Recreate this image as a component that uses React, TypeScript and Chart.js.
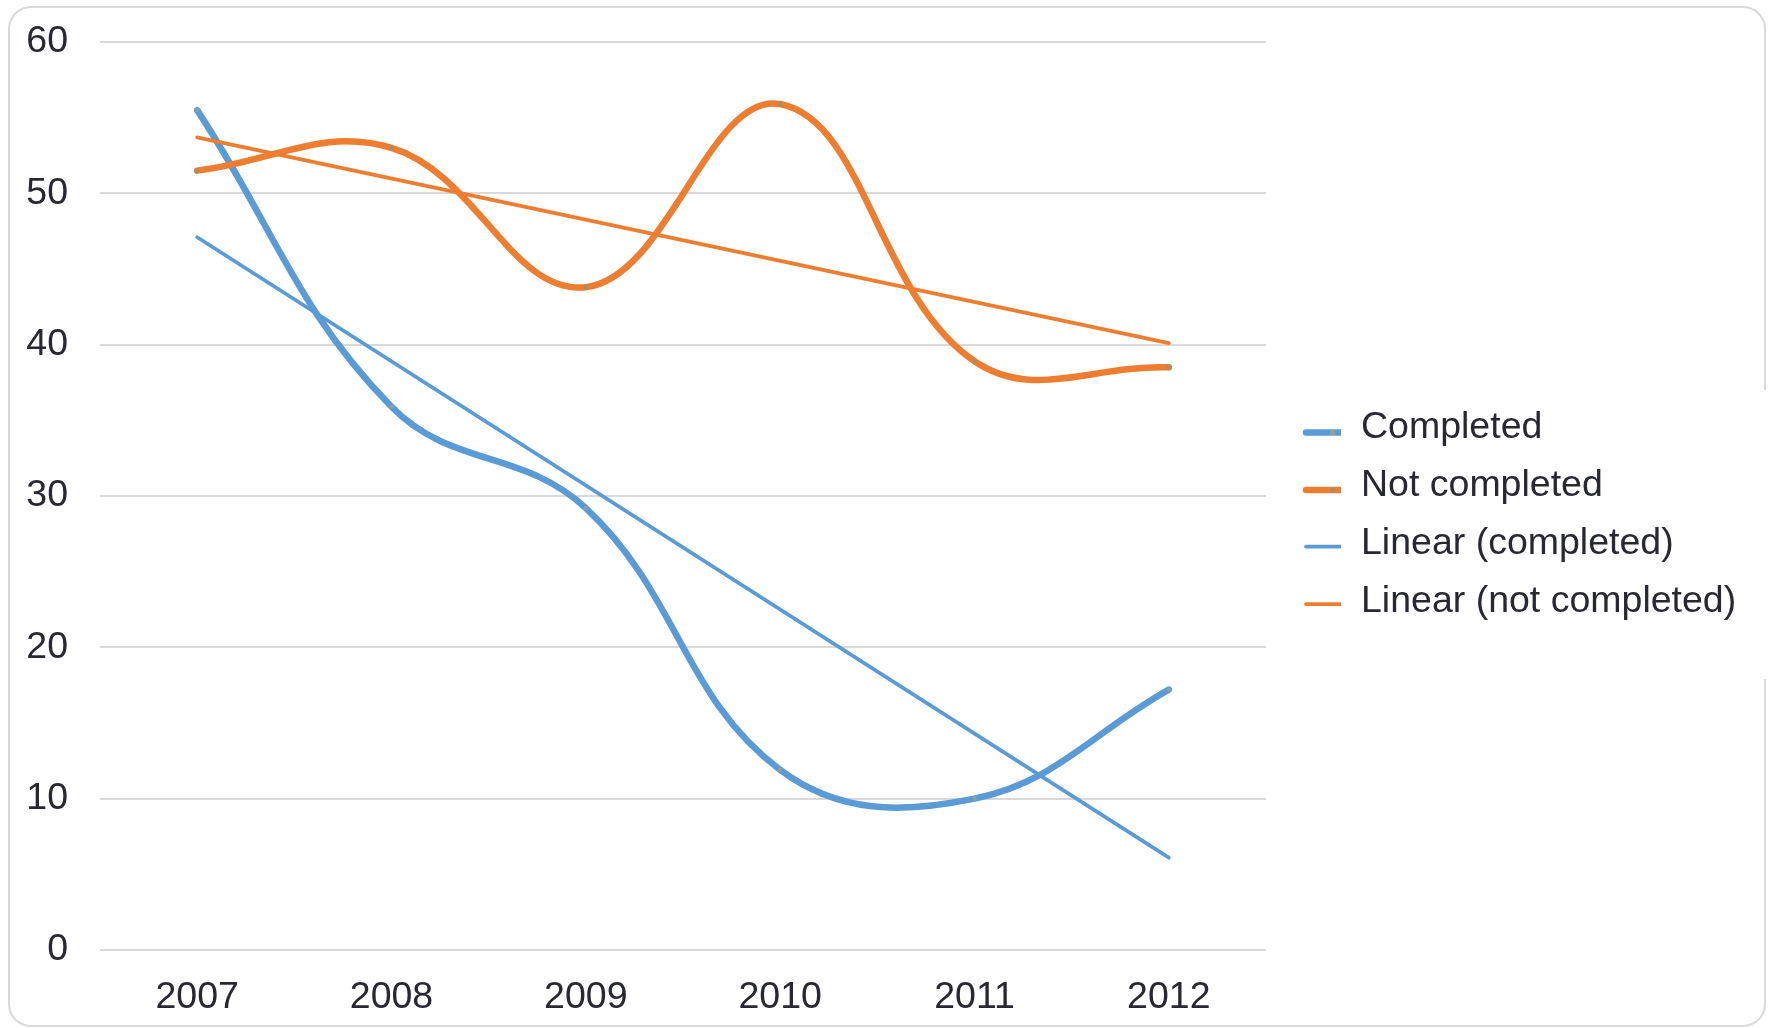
import React, { useEffect, useRef } from "react";
import { Chart, registerables } from "chart.js";

Chart.register(...registerables);

const categories = ["2007", "2008", "2009", "2010", "2011", "2012"];
const completed = [55.5, 35.9, 29.2, 11.9, 10.0, 17.2];
const notCompleted = [51.5, 53.0, 43.8, 55.9, 38.9, 38.5];
const linearCompleted = [47.1, null, null, null, null, 6.1];
const linearNotCompleted = [53.7, null, null, null, null, 40.1];
const seriesNames = ["Completed", "Not completed", "Linear (completed)", "Linear (not completed)"];
const yMin = 0;
const yMax = 60;
const yStep = 10;

const BLUE = "#5b9bd5";
const ORANGE = "#ed7d31";
const BLUE_MARK = "#939f9c";
const ORANGE_MARK = "#a98b66";
const GRID = "#d9d9d9";
const TEXT = "#282831";
const FONT = "'Liberation Sans', Arial, sans-serif";
const FONT_SIZE = 37.5;

const W = 1774;
const H = 1028;

const framePlugin = {
  id: "frame",
  beforeDraw(chart: any) {
    const ctx = chart.ctx;
    ctx.save();
    ctx.fillStyle = "#ffffff";
    ctx.fillRect(0, 0, W, H);
    ctx.strokeStyle = GRID;
    ctx.lineWidth = 2;
    ctx.beginPath();
    (ctx as any).roundRect(9, 7, 1756, 1019, 22);
    ctx.stroke();
    // legend box hides part of the right border
    ctx.fillStyle = "#ffffff";
    ctx.fillRect(1758, 390, 14, 289);
    ctx.restore();
  },
};

const legendPlugin = {
  id: "customLegend",
  afterDraw(chart: any) {
    const ctx = chart.ctx;
    ctx.save();
    const rows = [428, 486, 544, 601.5];
    const swatchY = [432.5, 490, 546.7, 604];
    const colors = [BLUE, ORANGE, BLUE, ORANGE];
    const widths = [6.5, 6.5, 3.75, 3.75];
    const marks = [BLUE_MARK, ORANGE_MARK, null, null];
    seriesNames.forEach((name, i) => {
      const y = rows[i];
      const sy = swatchY[i];
      ctx.strokeStyle = colors[i];
      ctx.lineWidth = widths[i];
      ctx.lineCap = "butt";
      ctx.beginPath();
      ctx.moveTo(1306, sy);
      ctx.lineTo(1341, sy);
      ctx.stroke();
      ctx.fillStyle = colors[i];
      ctx.beginPath();
      ctx.arc(1306, sy, widths[i] / 2, Math.PI / 2, Math.PI * 1.5);
      ctx.fill();
      const m = marks[i];
      if (m) {
        ctx.fillStyle = m;
        ctx.fillRect(1330, sy - 2.5, 5, 5);
      }
      ctx.fillStyle = TEXT;
      ctx.font = `${FONT_SIZE}px ${FONT}`;
      ctx.textAlign = "left";
      ctx.textBaseline = "middle";
      ctx.fillText(name, 1361, y);
    });
    ctx.restore();
  },
};

export default function App() {
  const ref = useRef<HTMLCanvasElement | null>(null);

  useEffect(() => {
    const canvas = ref.current;
    if (!canvas) return;
    const chart = new Chart(canvas, {
      type: "line",
      data: {
        labels: categories,
        datasets: [
          {
            label: seriesNames[0],
            data: completed,
            borderColor: BLUE,
            backgroundColor: BLUE_MARK,
            borderWidth: 6.5,
            tension: 0.4,
            pointStyle: "rect",
            pointRadius: 2.6,
            pointBorderWidth: 0,
            pointBackgroundColor: BLUE_MARK,
            borderCapStyle: "round",
            order: 4,
          },
          {
            label: seriesNames[1],
            data: notCompleted,
            borderColor: ORANGE,
            backgroundColor: ORANGE_MARK,
            borderWidth: 6.5,
            tension: 0.4,
            pointStyle: "rect",
            pointRadius: 2.9,
            pointBorderWidth: 0,
            pointBackgroundColor: ORANGE_MARK,
            borderCapStyle: "round",
            order: 3,
          },
          {
            label: seriesNames[2],
            data: linearCompleted,
            borderColor: BLUE,
            borderWidth: 3.75,
            pointRadius: 0,
            spanGaps: true,
            tension: 0,
            borderCapStyle: "round",
            order: 2,
          },
          {
            label: seriesNames[3],
            data: linearNotCompleted,
            borderColor: ORANGE,
            borderWidth: 3.75,
            pointRadius: 0,
            spanGaps: true,
            tension: 0,
            borderCapStyle: "round",
            order: 1,
          },
        ],
      },
      options: {
        responsive: false,
        animation: false,
        devicePixelRatio: 1,
        layout: { padding: { top: 42, left: 0, right: 508, bottom: 0 } },
        plugins: {
          legend: { display: false },
          tooltip: { enabled: false },
        },
        scales: {
          x: {
            type: "category",
            offset: true,
            grid: { display: false, drawTicks: false },
            border: { display: false },
            ticks: {
              color: TEXT,
              font: { family: FONT, size: FONT_SIZE },
              padding: 25,
              maxRotation: 0,
            },
            afterFit(scale: any) {
              scale.height = 78;
              scale.paddingLeft = 0;
              scale.paddingRight = 0;
            },
          },
          y: {
            min: yMin,
            max: yMax,
            grid: { color: GRID, lineWidth: 2, drawTicks: false },
            border: { display: false },
            ticks: {
              stepSize: yStep,
              color: TEXT,
              font: { family: FONT, size: FONT_SIZE },
              padding: 32,
            },
            afterFit(scale: any) {
              scale.width = 100;
              scale.paddingTop = 0;
              scale.paddingBottom = 0;
            },
          },
        },
      },
      plugins: [framePlugin, legendPlugin],
    });
    return () => chart.destroy();
  }, []);

  return (
    <canvas
      ref={ref}
      width={W}
      height={H}
      style={{ position: "absolute", left: 0, top: 0, width: W, height: H }}
    />
  );
}
